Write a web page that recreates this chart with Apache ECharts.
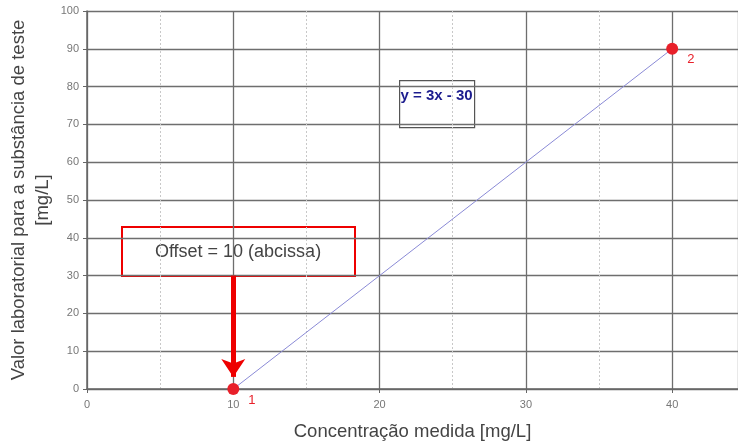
<!DOCTYPE html>
<html>
<head>
<meta charset="utf-8">
<script src="https://cdn.jsdelivr.net/npm/echarts@6/dist/echarts.min.js"></script>
<style>
  html, body { margin: 0; padding: 0; background: #fff; }
  #chart { width: 738px; height: 443px; }
</style>
</head>
<body>
<div id="chart"></div>
<script>
// pontos de calibração
var pointNames = ['1', '2']
var concMedida = [10, 40]
var valorLab = [0, 90]
var xTicks = [0, 10, 20, 30, 40]
var equation = 'y = 3x - 30'
var offsetText = 'Offset = 10 (abcissa)'
var offsetArrow = [[10, 30], [10, 3.2]]

var FONT = 'Liberation Sans, Arial, sans-serif'
var myChart = echarts.init(document.getElementById('chart'))

var seriesData = concMedida.map(function (x, i) {
  return { name: pointNames[i], value: [x, valorLab[i]] }
})

var option = {
  animation: false,
  textStyle: { fontFamily: FONT },
  grid: { left: 87, right: 0, top: 11, bottom: 54, containLabel: false, outerBoundsMode: 'none' },
  xAxis: {
    type: 'value',
    min: 0,
    max: 44.5,
    interval: 10,
    name: 'Concentração medida [mg/L]',
    nameLocation: 'middle',
    nameGap: 33,
    nameMoveOverlap: false,
    nameTextStyle: { fontSize: 18.5, color: '#444', fontFamily: FONT },
    axisLine: { show: true, lineStyle: { color: '#666', width: 1.5 } },
    axisTick: { show: true, length: 4, lineStyle: { color: '#666' } },
    axisLabel: {
      color: '#777', fontSize: 11, margin: 10, showMaxLabel: false,
      formatter: function (v) { return xTicks.indexOf(v) >= 0 ? v : '' }
    },
    splitLine: { show: true, lineStyle: { color: '#6e6e6e', width: 1.3 } },
    minorTick: { show: false, splitNumber: 2 },
    minorSplitLine: { show: true, lineStyle: { color: '#c8c8c8', type: [2, 2], width: 1 } }
  },
  yAxis: {
    type: 'value',
    min: 0,
    max: 100,
    interval: 10,
    name: 'Valor laboratorial para a substância de teste\n[mg/L]',
    nameLocation: 'middle',
    nameGap: 32,
    nameMoveOverlap: false,
    nameTextStyle: { fontSize: 18.5, color: '#444', lineHeight: 24, fontFamily: FONT },
    axisLine: { show: true, lineStyle: { color: '#666', width: 1.5 } },
    axisTick: { show: true, length: 4, lineStyle: { color: '#666' } },
    axisLabel: { color: '#777', fontSize: 11, margin: 8 },
    splitLine: { show: true, lineStyle: { color: '#6e6e6e', width: 1.3 } }
  },
  series: [{
    type: 'line',
    data: seriesData,
    clip: false,
    lineStyle: { color: '#8a8ad6', width: 1 },
    symbol: 'circle',
    symbolSize: 12,
    itemStyle: { color: '#e8202a' },
    label: {
      show: true,
      position: 'right',
      offset: [4, 11],
      color: '#e8202a',
      fontSize: 13,
      formatter: function (p) { return p.name }
    },
    markLine: {
      silent: true,
      symbol: ['none', 'arrow'],
      symbolSize: [18, 18],
      label: { show: false },
      lineStyle: { color: '#ee0000', width: 5, type: 'solid' },
      data: [[{ coord: offsetArrow[0] }, { coord: offsetArrow[1] }]]
    }
  }],
  graphic: [
    {
      type: 'group',
      left: 399, top: 80,
      children: [
        { type: 'rect', shape: { x: 0, y: 0, width: 75, height: 47 },
          style: { fill: '#fff', stroke: '#555', lineWidth: 1.2 } },
        { type: 'text', x: 37, y: 15,
          style: { text: equation, fill: '#1c1c8e', font: 'bold 15px ' + FONT, align: 'center', verticalAlign: 'middle' } }
      ]
    },
    {
      type: 'group',
      left: 121, top: 226,
      children: [
        { type: 'rect', shape: { x: 0, y: 0, width: 233, height: 49 },
          style: { fill: '#fff', stroke: '#ee0000', lineWidth: 2 } },
        { type: 'text', x: 116, y: 25,
          style: { text: offsetText, fill: '#444', font: '18px ' + FONT, align: 'center', verticalAlign: 'middle' } }
      ]
    }
  ]
}

myChart.setOption(option)
</script>
</body>
</html>
